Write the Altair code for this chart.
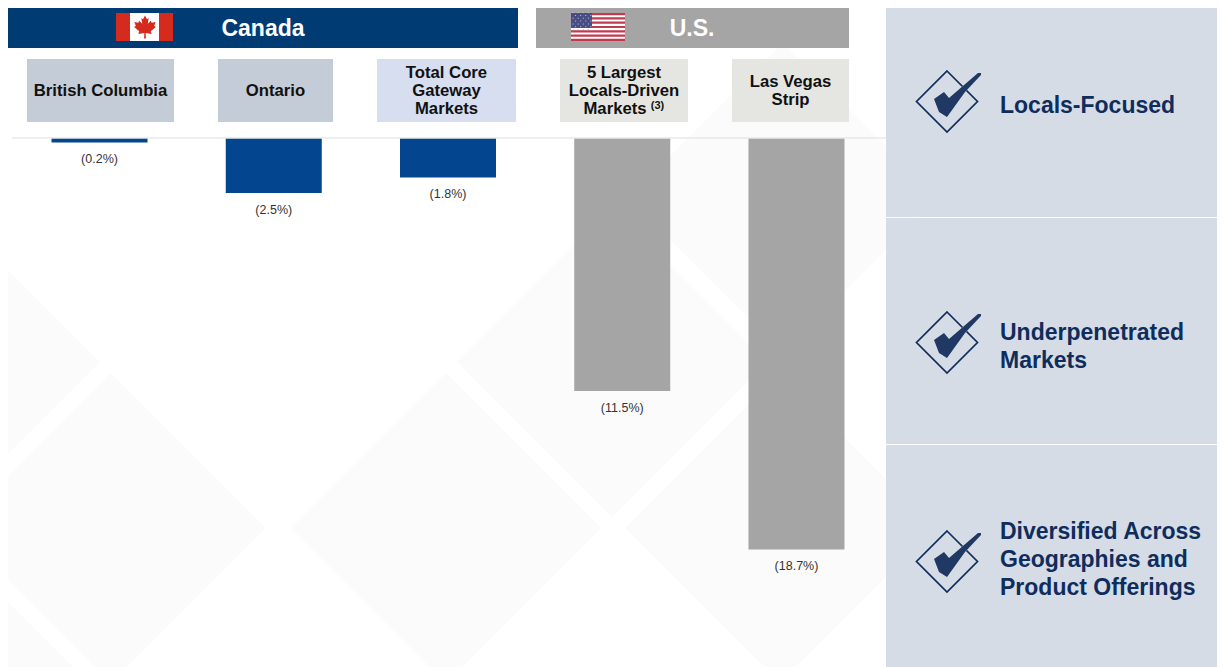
import altair as alt
import pandas as pd

# ---- chart data ----
categories = ["British Columbia", "Ontario", "Total Core Gateway Markets",
              "5 Largest Locals-Driven Markets", "Las Vegas Strip"]
values = [-0.2, -2.5, -1.8, -11.5, -18.7]
value_labels = ["(0.2%)", "(2.5%)", "(1.8%)", "(11.5%)", "(18.7%)"]
groups = ["Canada", "Canada", "Canada", "U.S.", "U.S."]

M = 8  # page margin
W, H = 1209, 659
FONT = "Liberation Sans"
NAVY = "#003B73"
BAR_BLUE = "#03468F"
GREY = "#A5A5A5"
PANEL = "#D6DCE5"
INK = "#0F2D5C"

empty = pd.DataFrame({"k": [0]})
y_domain = [-24.045, 5.909]


def box(x0, x1, y0, y1, color):
    return alt.Chart(empty).mark_rect(color=color, opacity=1).encode(
        x=alt.value(x0 - M), x2=alt.value(x1 - M),
        y=alt.value(y0 - M), y2=alt.value(y1 - M))


def label(text, x, y, size, color, align="center", bold=True):
    return alt.Chart(empty).mark_text(
        font=FONT, fontSize=size, color=color, align=align, baseline="middle",
        fontWeight="bold" if bold else "normal").encode(
        x=alt.value(x - M), y=alt.value(y - M), text=alt.value(text))


def glyph(path, x, y, half, fill=None, stroke=None, sw=0):
    kw = dict(shape=path, size=(2 * half) ** 2, opacity=1, strokeWidth=sw)
    if fill:
        kw.update(filled=True, fill=fill)
    else:
        kw.update(filled=False, fill="transparent")
    if stroke:
        kw.update(stroke=stroke)
    else:
        kw.update(stroke="transparent")
    return alt.Chart(empty).mark_point(**kw).encode(
        x=alt.value(x - M), y=alt.value(y - M))


DIAMOND = "M0,-1L1,0L0,1L-1,0Z"
CHECK = ("M-.361,-.056L-.083,-.25L.056,-.083L.861,-.778L.944,-.778L.944,-.722"
         "L.5,-.25L0,.444L-.222,.306Z")
LEAF = ("M0,-1L.17,-.68L.32,-.78L.24,-.28L.5,-.55L.58,-.38L.92,-.43L.8,-.08"
        "L.95,0L.5,.38L.58,.6L.06,.52L.08,1L-.08,1L-.06,.52L-.58,.6L-.5,.38"
        "L-.95,0L-.8,-.08L-.92,-.43L-.58,-.38L-.5,-.55L-.24,-.28L-.32,-.78L-.17,-.68Z")

layers = []

# faint background diamonds
for cx, cy in [(111, 528), (446, 528), (780, 528), (-55, 362), (612, 362),
               (783, 198), (-55, 694)]:
    layers.append(glyph(DIAMOND, cx, cy, 155, fill="#FBFBFB"))

# bars and their scales
bars_df = pd.DataFrame({"category": categories, "value": values,
                        "label": value_labels, "group": groups})
x_enc = alt.X("category:N", sort=categories, axis=None,
              scale=alt.Scale(range=[4.4, 875.6], paddingInner=0.449, paddingOuter=0.2245))
y_enc = alt.Y("value:Q", axis=None,
              scale=alt.Scale(domain=y_domain, nice=False, zero=False))
color_enc = alt.Color("group:N", legend=None,
                      scale=alt.Scale(domain=["Canada", "U.S."], range=[BAR_BLUE, GREY]))

layers.append(alt.Chart(bars_df).mark_bar(opacity=1).encode(
    x=x_enc, y=y_enc, y2=alt.Y2(datum=0), color=color_enc))
layers.append(alt.Chart(bars_df).mark_text(
    font=FONT, fontSize=12.5, color="#333333", baseline="middle", dy=16.5).encode(
    x=x_enc, y=y_enc, text="label:N"))

# zero baseline
layers.append(alt.Chart(empty).mark_rule(color="#E9E9E9", strokeWidth=1.5).encode(
    x=alt.value(12 - M), x2=alt.value(886 - M),
    y=alt.Y(datum=0, scale=alt.Scale(domain=y_domain, nice=False, zero=False), axis=None)))

# header bands
layers += [box(8, 518, 5, 48, NAVY), box(536, 849, 5, 48, GREY)]
layers += [label("Canada", 263, 29, 23, "white"), label("U.S.", 692, 29, 23, "white")]

# Canadian flag
layers += [box(116, 173, 13, 41, "white"), box(116, 130, 13, 41, "#D52B1E"),
           box(159, 173, 13, 41, "#D52B1E"), glyph(LEAF, 145, 27, 11.5, fill="#D52B1E")]

# US flag
stripe_h = 28 / 13
layers.append(box(571, 625, 13, 41, "white"))
for i in range(0, 13, 2):
    layers.append(box(571, 625, 13 + i * stripe_h, 13 + (i + 1) * stripe_h, "#BF3B4E"))
layers.append(box(571, 592, 13, 28, "#4A4C86"))
stars = ""
for r in range(7):
    for c in range(8):
        if (r + c) % 2 == 0:
            sx, sy = -0.85 + c * 0.243, -0.8 + r * 0.27
            stars += f"M{sx:.3f},{sy:.3f}h.09v.09h-.09Z"
layers.append(glyph(stars, 581.5, 20.5, 10.5, fill="#C9CBE4"))

# category boxes
for x0, x1, col, lines in [
    (27, 174, "#C4CCD8", ["British Columbia"]),
    (218, 333, "#C4CCD8", ["Ontario"]),
    (377, 516, "#D6DEEF", ["Total Core", "Gateway", "Markets"]),
    (560, 688, "#E5E6E2", ["5 Largest", "Locals-Driven", "Markets"]),
    (732, 849, "#E5E6E2", ["Las Vegas", "Strip"]),
]:
    layers.append(box(x0, x1, 59, 122, col))
    y0 = 91 - (len(lines) - 1) * 9
    cx = (x0 + x1) / 2
    for i, t in enumerate(lines):
        if t == "Markets" and x0 == 560:
            layers.append(label(t, 615, y0 + i * 18, 16.7, "#111111"))
        else:
            layers.append(label(t, cx, y0 + i * 18, 16.7, "#111111"))
layers.append(label("(3)", 657.5, 105.5, 11, "#111111", bold=True))

# right panel
layers += [box(886, 1225, 0, 217, PANEL), box(886, 1225, 218, 444, PANEL),
           box(886, 1225, 445, 667, PANEL)]
for cy, lines, ys in [
    (101, ["Locals-Focused"], [105.5]),
    (342, ["Underpenetrated", "Markets"], [332.5, 360.5]),
    (561, ["Diversified Across", "Geographies and", "Product Offerings"], [531.5, 559.5, 587.5]),
]:
    layers.append(glyph(DIAMOND, 947, cy + 0.5, 30.5, stroke=INK, sw=1.7))
    layers.append(glyph(CHECK, 947, cy, 36, fill=PANEL, stroke=PANEL, sw=0.08))
    layers.append(glyph(CHECK, 947, cy, 36, fill="#1F3864"))
    for t, y in zip(lines, ys):
        layers.append(label(t, 1000, y, 23, INK, align="left"))

chart = alt.layer(*layers).resolve_scale(color="independent").properties(
    width=W, height=H, padding=0, background="white",
    autosize=alt.AutoSizeParams(type="none"),
).configure_view(stroke=None)

chart.save("out.html", embed_options={"renderer": "svg", "actions": False})
